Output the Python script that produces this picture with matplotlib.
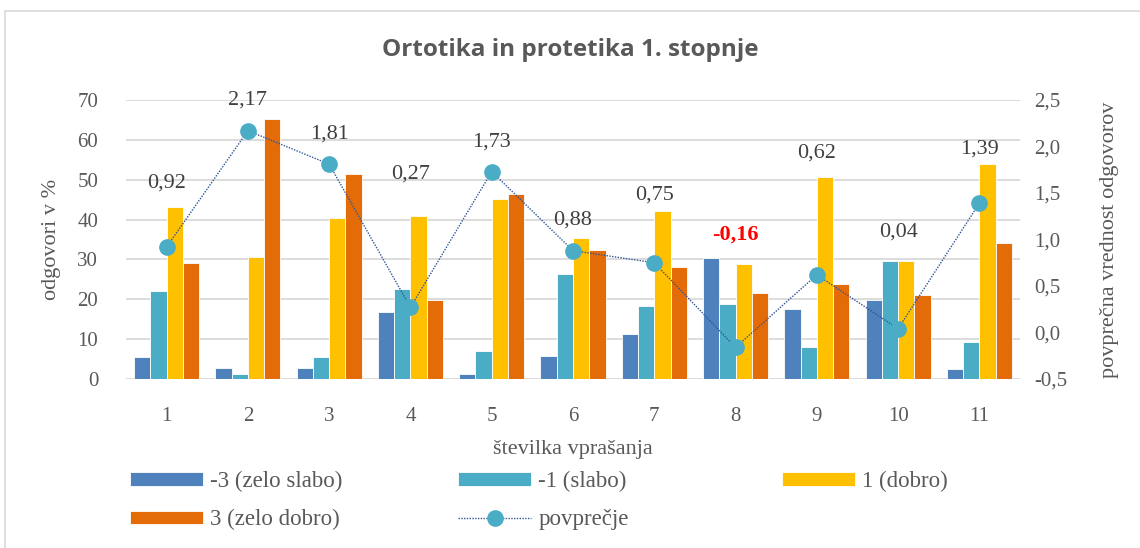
import matplotlib
matplotlib.use('Agg')
import matplotlib.pyplot as plt
import numpy as np
from matplotlib.ticker import FuncFormatter

plt.rcParams['font.family'] = ['Liberation Serif', 'DejaVu Serif']

# podatki
vprasanja = ['1', '2', '3', '4', '5', '6', '7', '8', '9', '10', '11']
zelo_slabo = [5.5, 2.8, 2.8, 16.9, 1.3, 5.8, 11.2, 30.3, 17.5, 19.7, 2.6]
slabo = [22.2, 1.3, 5.5, 22.5, 7.0, 26.4, 18.2, 18.7, 8.0, 29.5, 9.2]
dobro = [43.1, 30.5, 40.3, 40.8, 45.1, 35.3, 42.2, 28.9, 50.8, 29.5, 53.9]
zelo_dobro = [29.1, 65.3, 51.4, 19.7, 46.4, 32.3, 28.1, 21.7, 23.8, 21.1, 34.1]
povprecje = [0.92, 2.17, 1.81, 0.27, 1.73, 0.88, 0.75, -0.16, 0.62, 0.04, 1.39]

serije = ['-3 (zelo slabo)', '-1 (slabo)', '1 (dobro)', '3 (zelo dobro)']
barve = ['#4F81BD', '#4BACC6', '#FFC000', '#E36C09']
# odmik oznak nad tocko (v pikslih)
odmiki = [64, 31, 30, 133, 30, 31, 68, 113, 122, 97, 54]

siva = '#595959'
fs = 15

fig = plt.figure(figsize=(11.4, 5.48), dpi=100)
ax = fig.add_axes([126/1140, 1-379/548, (1020-126)/1140, 279/548])

x = np.arange(len(vprasanja))
w = 0.2
stolpci = []
for i, (vals, b) in enumerate(zip([zelo_slabo, slabo, dobro, zelo_dobro], barve)):
    s = ax.bar(x + (i - 1.5) * w, vals, w, color=b, edgecolor='white', linewidth=0.6,
               label=serije[i], zorder=3)
    stolpci.append(s)

ax.set_xlim(-0.5, len(vprasanja) - 0.5)
ax.set_ylim(0, 70)
ax.set_yticks(range(0, 71, 10))
ax.set_xticks(x)
ax.set_xticklabels(vprasanja)
ax.yaxis.grid(True, color='#D9D9D9', linewidth=1.3, zorder=0)
ax.set_axisbelow(True)
for sp in ax.spines.values():
    sp.set_visible(False)
ax.tick_params(axis='both', length=0, labelsize=fs, colors=siva)
ax.tick_params(axis='x', pad=20)
ax.tick_params(axis='y', pad=20)
ax.set_ylabel('odgovori v %', fontsize=fs + 1, color=siva, labelpad=12)
ax.set_xlabel('številka vprašanja', fontsize=fs + 1, color=siva, labelpad=10)

ax2 = ax.twinx()
ax2.set_ylim(-0.5, 2.5)
ax2.set_yticks(np.arange(-0.5, 2.51, 0.5))
ax2.yaxis.set_major_formatter(FuncFormatter(lambda v, p: f'{v:.1f}'.replace('.', ',')))
for sp in ax2.spines.values():
    sp.set_visible(False)
ax2.tick_params(axis='y', length=0, labelsize=fs, colors=siva, pad=10)
ax2.set_ylabel('povprečna vrednost odgovorov', fontsize=fs + 1, color=siva, labelpad=24)

crta, = ax2.plot(x, povprecje, color='#2E5597', linestyle=(0, (1, 1)), linewidth=1.0,
                 marker='o', markersize=11, markerfacecolor='#4BACC6',
                 markeredgecolor='#4BACC6', label='povprečje', zorder=5)

for xi, v, o in zip(x, povprecje, odmiki):
    besedilo = f'{v:.2f}'.replace('.', ',')
    if v < 0:
        ax2.annotate(besedilo, (xi, v), xytext=(0, o), textcoords='offset pixels',
                     ha='center', va='center', fontsize=fs + 1, color='red', fontweight='bold')
    else:
        ax2.annotate(besedilo, (xi, v), xytext=(0, o), textcoords='offset pixels',
                     ha='center', va='center', fontsize=fs + 1, color='#404040')

fig.text(0.5, 1 - 50/548, 'Ortotika in protetika 1. stopnje', ha='center', va='center',
         fontsize=17.5, fontweight='bold', color=siva, family='Open Sans')

# legenda v treh stolpcih
stolpci_leg = [([stolpci[0], stolpci[3]], [serije[0], serije[3]], 130),
               ([stolpci[1], crta], [serije[1], 'povprečje'], 458),
               ([stolpci[2]], [serije[2]], 782)]
for h, l, px in stolpci_leg:
    leg = fig.legend(h, l, loc='upper left', bbox_to_anchor=(px/1140, 1 - 471/548),
                     frameon=False, fontsize=16.5, handlelength=3.2, handleheight=0.5,
                     handletextpad=0.3, borderpad=0, borderaxespad=0, labelspacing=0.75)
    for t in leg.get_texts():
        t.set_color(siva)

# okvir
fig.add_artist(plt.Line2D([5/1140, 5/1140], [0, 1 - 11/548], transform=fig.transFigure,
                          color='#D9D9D9', linewidth=1.2))
fig.add_artist(plt.Line2D([5/1140, 1], [1 - 11/548, 1 - 11/548], transform=fig.transFigure,
                          color='#D9D9D9', linewidth=1.2))

fig.savefig('out.png', dpi=100)
